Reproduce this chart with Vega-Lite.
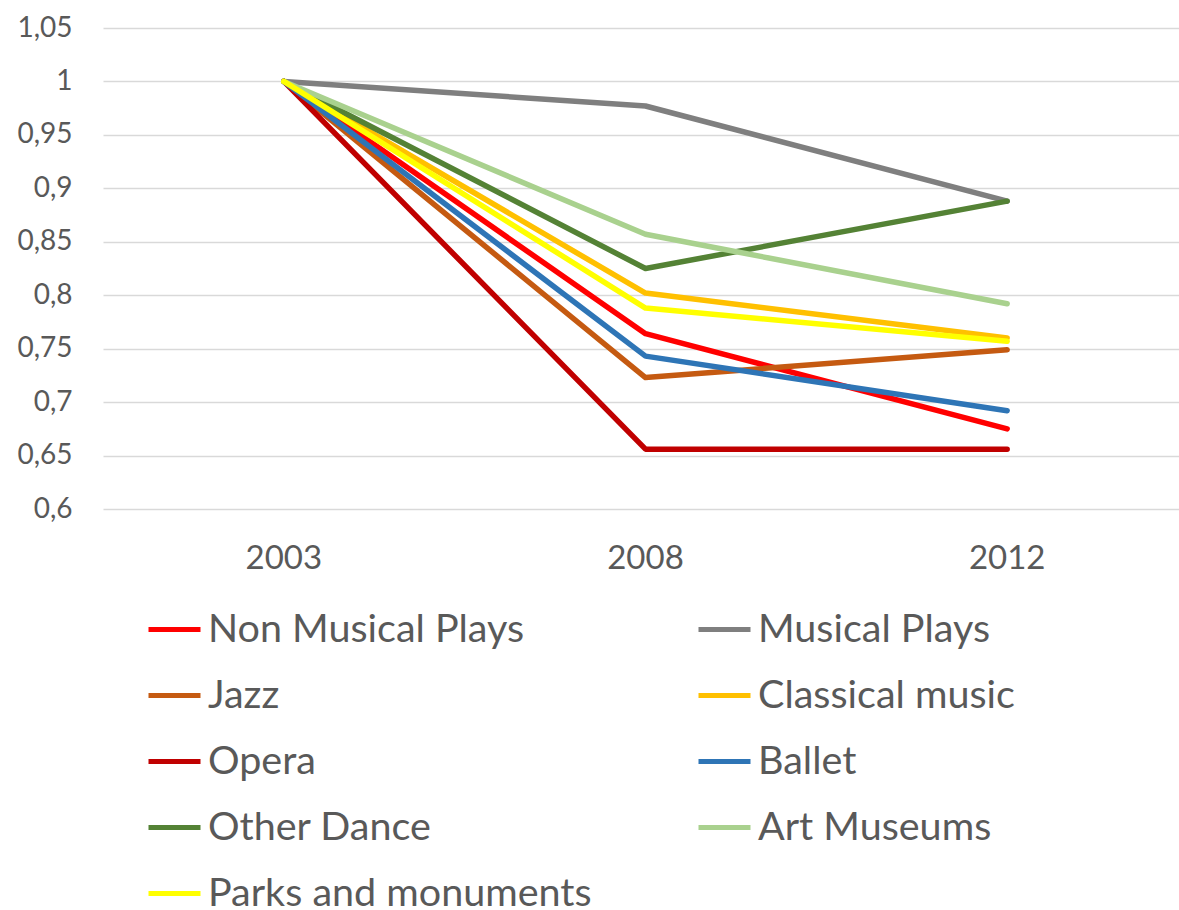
{
  "$schema": "https://vega.github.io/schema/vega-lite/v6.json",
  "autosize": "none",
  "padding": {"left": 103, "top": 28, "right": 0, "bottom": 401},
  "width": 1085,
  "height": 481,
  "background": "white",
  "config": {
    "font": "Lato",
    "view": {"stroke": null}
  },
  "data": {
    "values": [
      {"series": "Non Musical Plays", "year": "2003", "value": 1},
      {"series": "Non Musical Plays", "year": "2008", "value": 0.764},
      {"series": "Non Musical Plays", "year": "2012", "value": 0.675},
      {"series": "Musical Plays", "year": "2003", "value": 1},
      {"series": "Musical Plays", "year": "2008", "value": 0.977},
      {"series": "Musical Plays", "year": "2012", "value": 0.888},
      {"series": "Jazz", "year": "2003", "value": 1},
      {"series": "Jazz", "year": "2008", "value": 0.723},
      {"series": "Jazz", "year": "2012", "value": 0.749},
      {"series": "Classical music", "year": "2003", "value": 1},
      {"series": "Classical music", "year": "2008", "value": 0.802},
      {"series": "Classical music", "year": "2012", "value": 0.76},
      {"series": "Opera", "year": "2003", "value": 1},
      {"series": "Opera", "year": "2008", "value": 0.656},
      {"series": "Opera", "year": "2012", "value": 0.656},
      {"series": "Ballet", "year": "2003", "value": 1},
      {"series": "Ballet", "year": "2008", "value": 0.743},
      {"series": "Ballet", "year": "2012", "value": 0.692},
      {"series": "Other Dance", "year": "2003", "value": 1},
      {"series": "Other Dance", "year": "2008", "value": 0.825},
      {"series": "Other Dance", "year": "2012", "value": 0.888},
      {"series": "Art Museums", "year": "2003", "value": 1},
      {"series": "Art Museums", "year": "2008", "value": 0.857},
      {"series": "Art Museums", "year": "2012", "value": 0.792},
      {"series": "Parks and monuments", "year": "2003", "value": 1},
      {"series": "Parks and monuments", "year": "2008", "value": 0.788},
      {"series": "Parks and monuments", "year": "2012", "value": 0.757}
    ]
  },
  "mark": {"type": "line", "strokeWidth": 5.5, "strokeCap": "round", "strokeJoin": "round"},
  "encoding": {
    "x": {
      "field": "year",
      "type": "ordinal",
      "scale": {"type": "band", "paddingInner": 0, "paddingOuter": 0},
      "axis": {
        "title": null,
        "labelAngle": 0,
        "domain": false,
        "ticks": false,
        "labelFontSize": 33,
        "labelColor": "#595959",
        "labelPadding": 33
      }
    },
    "y": {
      "field": "value",
      "type": "quantitative",
      "scale": {"domain": [0.6, 1.05], "nice": false, "zero": false},
      "axis": {
        "title": null,
        "values": [0.6, 0.65, 0.7, 0.75, 0.8, 0.85, 0.9, 0.95, 1, 1.05],
        "labelExpr": "replace(format(datum.value, '.2~f'), '.', ',')",
        "domain": false,
        "ticks": false,
        "grid": true,
        "gridColor": "#d9d9d9",
        "gridWidth": 1.5,
        "labelFontSize": 28,
        "labelColor": "#595959",
        "labelPadding": 31
      }
    },
    "color": {
      "field": "series",
      "type": "nominal",
      "scale": {
        "domain": ["Non Musical Plays", "Jazz", "Opera", "Other Dance", "Parks and monuments", "Musical Plays", "Classical music", "Ballet", "Art Museums"],
        "range": ["#FF0000", "#C55A11", "#C00000", "#548235", "#FFFF00", "#7F7F7F", "#FFC000", "#2E75B6", "#A9D18E"]
      },
      "legend": {
        "title": null,
        "orient": "none",
        "legendX": 43,
        "legendY": 573,
        "columns": 2,
        "columnPadding": 96,
        "rowPadding": 18,
        "symbolType": "stroke",
        "symbolSize": 2704,
        "symbolStrokeWidth": 5,
        "labelFontSize": 39.5,
        "labelColor": "#595959",
        "labelOffset": 5,
        "labelLimit": 600
      }
    }
  }
}
